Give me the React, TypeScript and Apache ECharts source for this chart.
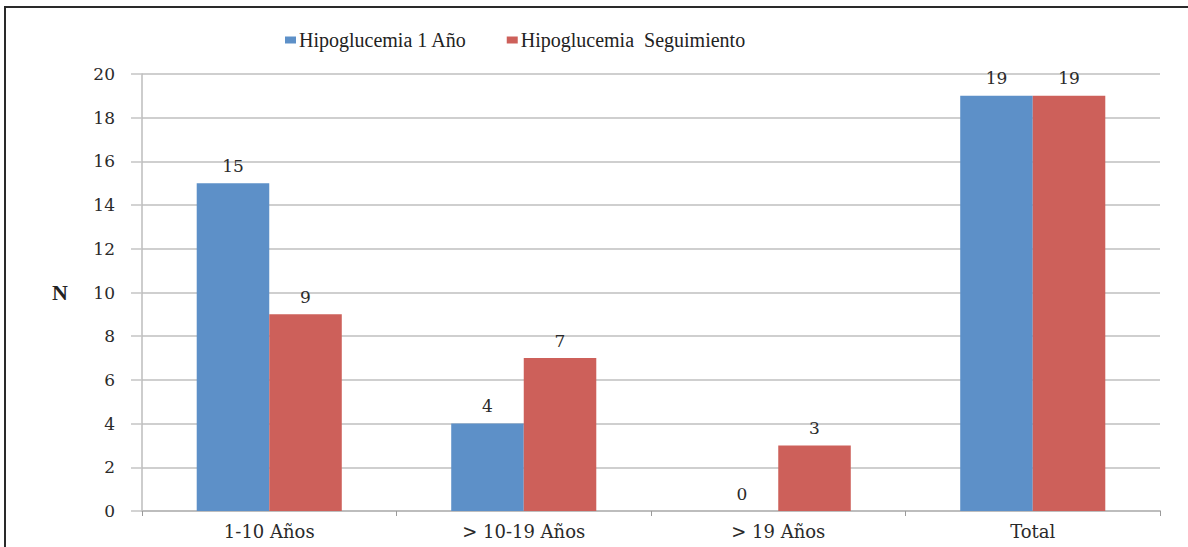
import React, { useEffect, useRef } from "react";
import * as echarts from "echarts";

// Age groups on the x axis
const categories = ["1-10 Años", "> 10-19 Años", "> 19 Años", "Total"];
// Hypoglycaemia counts per group
const hipoglucemia1Ano = [15, 4, 0, 19];
const hipoglucemiaSeguimiento = [9, 7, 3, 19];
const seriesNames = ["Hipoglucemia 1 Año", "Hipoglucemia  Seguimiento"];

const BLUE = "#5D90C8";
const RED = "#CD605A";
const GRID = "#CFCFCF";
const SERIF = "Liberation Serif";
const WIDE = "DejaVu Serif";

export default function App() {
  const ref = useRef<HTMLDivElement>(null);

  useEffect(() => {
    if (!ref.current) return;
    const chart = echarts.init(ref.current, null, { renderer: "svg" });
    const labelStyle = {
      show: true,
      position: "top" as const,
      distance: 9,
      color: "#2a2a2a",
      fontFamily: WIDE,
      fontSize: 17,
    };
    chart.setOption({
      animation: false,
      backgroundColor: "#ffffff",
      textStyle: { fontFamily: SERIF },
      graphic: [
        {
          type: "rect",
          shape: { x: 5, y: 7, width: 1300, height: 700 },
          style: { fill: "none", stroke: "#2a2a2a", lineWidth: 2 },
          silent: true,
        },
      ],
      legend: {
        top: 25,
        left: 280,
        itemWidth: 11,
        itemHeight: 7,
        itemGap: 40,
        icon: "rect",
        textStyle: { fontFamily: SERIF, fontSize: 20, color: "#222", padding: [0, 0, 0, -2] },
        data: seriesNames,
      },
      grid: { left: 142, right: 28, top: 74, bottom: 36 },
      xAxis: {
        type: "category",
        data: categories,
        axisLine: { lineStyle: { color: "#BDBDBD", width: 2 } },
        axisTick: { show: true, length: 5, lineStyle: { color: "#9a9a9a" } },
        axisLabel: { margin: 11, fontFamily: WIDE, fontSize: 18, color: "#2a2a2a" },
      },
      yAxis: {
        type: "value",
        min: 0,
        max: 20,
        interval: 2,
        name: "N",
        nameLocation: "middle",
        nameRotate: 0,
        nameGap: 74,
        nameTextStyle: { fontFamily: SERIF, fontSize: 22, fontWeight: "bold", color: "#222" },
        axisLine: { show: true, lineStyle: { color: "#BDBDBD", width: 1.5 } },
        axisTick: { show: true, length: 11, lineStyle: { color: "#C4C4C4", width: 1.5 } },
        splitLine: { lineStyle: { color: GRID, width: 2 } },
        axisLabel: { margin: 27, fontFamily: WIDE, fontSize: 17, color: "#2a2a2a" },
      },
      series: [
        {
          name: seriesNames[0],
          type: "bar",
          data: hipoglucemia1Ano,
          itemStyle: { color: BLUE },
          barGap: "0%",
          barCategoryGap: "43%",
          label: labelStyle,
        },
        {
          name: seriesNames[1],
          type: "bar",
          data: hipoglucemiaSeguimiento,
          itemStyle: { color: RED },
          label: labelStyle,
        },
      ],
    });
    return () => chart.dispose();
  }, []);

  return (
    <div
      ref={ref}
      style={{ position: "fixed", left: 0, top: 0, width: 1188, height: 547 }}
    />
  );
}
